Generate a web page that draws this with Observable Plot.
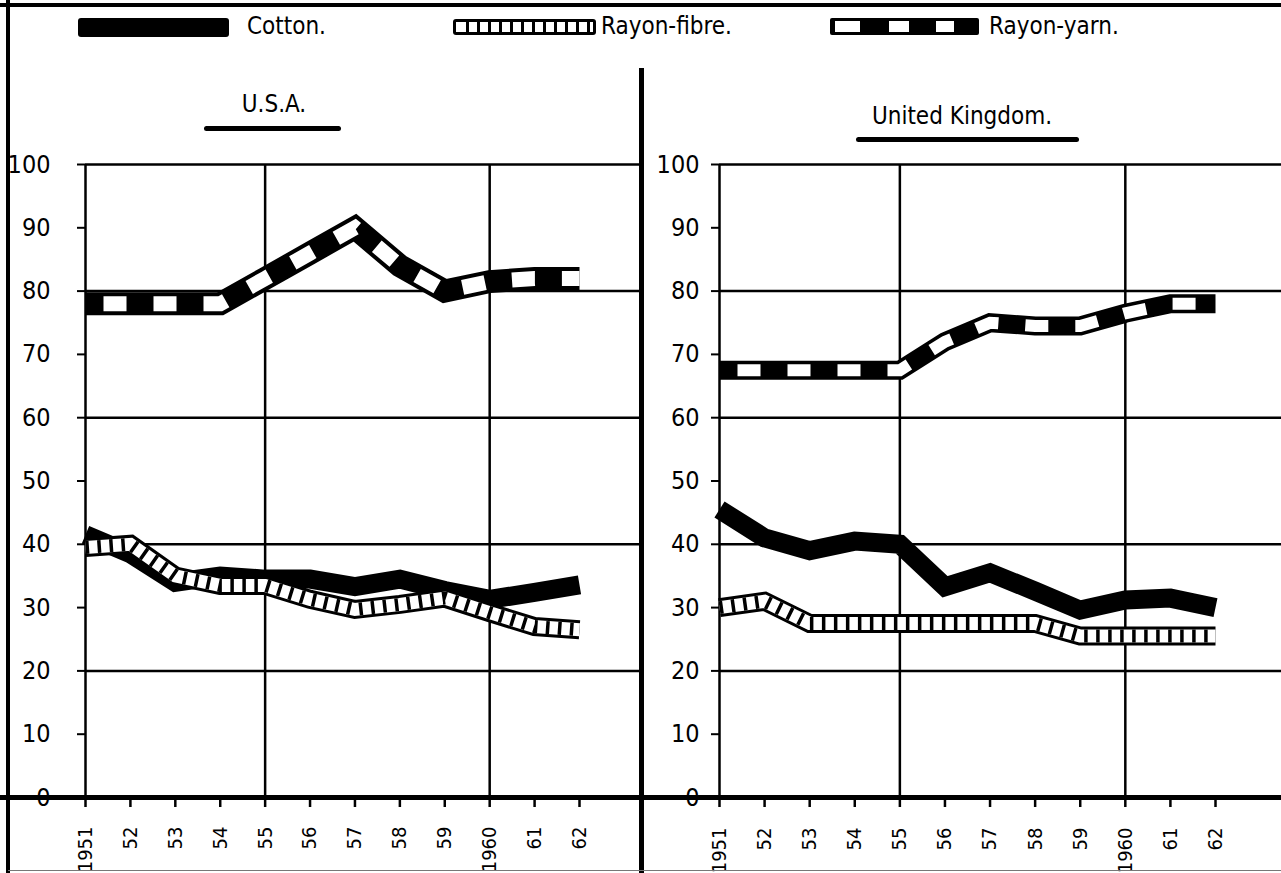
<!DOCTYPE html>
<html><head><meta charset="utf-8">
<script src="https://cdn.jsdelivr.net/npm/d3@7"></script>
<script src="https://cdn.jsdelivr.net/npm/@observablehq/plot@0.6"></script>
<style>
html,body{margin:0;padding:0;background:#fff;}
#page{position:relative;width:1281px;height:873px;overflow:hidden;background:#fff;
  font-family:"Liberation Sans Narrow","DejaVu Sans Condensed","DejaVu Sans",sans-serif;font-stretch:condensed;color:#000;}
.abs{position:absolute;}
.lbl{position:absolute;font-size:24px;line-height:1;white-space:nowrap;}
.title{position:absolute;font-size:24px;line-height:1;white-space:nowrap;transform:translateX(-50%);}
.uline{position:absolute;height:5px;background:#000;border-radius:3px;}
</style></head>
<body><div id="page"></div>
<script>
// ---- data ----
const years = [1951,1952,1953,1954,1955,1956,1957,1958,1959,1960,1961,1962];
const yearLabels = ["1951","52","53","54","55","56","57","58","59","1960","61","62"];
const yTicks = [0,10,20,30,40,50,60,70,80,90,100];
const gridY = [20,40,60,80,100];
const gridX = [1951,1955,1960];
const seriesNames = ["Cotton.","Rayon-fibre.","Rayon-yarn."];
const panelTitles = ["U.S.A.","United Kingdom."];

const usaCotton = [41.5,38.5,34,35,34.5,34.5,33.3,34.5,32.7,31.3,32.4,33.6];
const usaFibre  = [39.5,40,35,33.5,33.5,31.3,29.7,30.5,31.5,29.2,27,26.5];
const usaYarn   = [78,78,78,78,82,86,90,84,80,81.5,82,82];

const ukCotton = [45.5,41,39,40.5,40,33.3,35.5,32.6,29.6,31.2,31.5,30];
const ukFibre  = [30,31,27.5,27.5,27.5,27.5,27.5,27.5,25.5,25.5,25.5,25.5];
const ukYarn   = [67.5,67.5,67.5,67.5,67.5,72,75,74.5,74.5,76.5,78,78];

// ---- page frame ----
const page = d3.select("#page");
function block(x,y,w,h,color){ page.append("div").attr("class","abs")
  .style("left",x+"px").style("top",y+"px").style("width",w+"px").style("height",h+"px")
  .style("background",color||"#000"); }

const FONT = '"Liberation Sans Narrow","DejaVu Sans Condensed","DejaVu Sans",sans-serif';
const labelOf = new Map(years.map((y,i)=>[y,yearLabels[i]]));

function panel(cfg){
  const rows = s => years.map((yr,i)=>({year:yr, value:s[i]}));
  const cotton = rows(cfg.cotton), fibre = rows(cfg.fibre), yarn = rows(cfg.yarn);
  const ml = cfg.ml, mr = cfg.mr;
  const L = {x:"year", y:"value", strokeLinejoin:"miter", strokeMiterlimit:4, strokeLinecap:"butt", curve:"linear"};
  return Plot.plot({
    width: cfg.width, height: 733,
    marginTop: 24, marginBottom: 76, marginLeft: ml, marginRight: mr,
    x: {domain:[1951,1962], axis:null},
    y: {domain:[0,100], axis:null},
    style: {fontFamily: FONT, fontStretch:"condensed", background:"transparent", overflow:"visible", color:"#000"},
    marks: [
      Plot.ruleY(gridY, {stroke:"#000", strokeWidth:2.5, insetRight:-mr}),
      Plot.ruleX(gridX, {stroke:"#000", strokeWidth:2.5}),
      Plot.axisY(yTicks, {tickSize:8, tickPadding:cfg.pad, fontSize:25, stroke:"#000", strokeWidth:2, fill:"#000", label:null}),
      Plot.axisX(years, {tickSize:10, tickPadding:cfg.xpad, tickRotate:-90, fontSize:20, stroke:"#000", strokeWidth:2.5, fill:"#000",
        label:null, tickFormat: d => labelOf.get(d)}),
      // Rayon-yarn: black band with white blocks
      Plot.line(yarn, {...L, stroke:"#000", strokeWidth:cfg.yarnW}),
      Plot.line(yarn, {...L, stroke:"#fff", strokeWidth:cfg.yarnI, strokeDasharray:"23 27", strokeDashoffset:32}),
      // Cotton: solid black band
      Plot.line(cotton, {...L, stroke:"#000", strokeWidth:19}),
      // Rayon-fibre: outlined band with bars
      Plot.line(fibre, {...L, stroke:"#000", strokeWidth:19}),
      Plot.line(fibre, {...L, stroke:"#fff", strokeWidth:13}),
      Plot.line(fibre, {...L, stroke:"#000", strokeWidth:13, strokeDasharray:"3.5 8.5", strokeDashoffset:0}),
      // baseline
      Plot.ruleY([0], {stroke:"#000", strokeWidth:5, insetLeft:-ml, insetRight:-mr})
    ]
  });
}

const left = panel({width:641, ml:85, mr:62, pad:27, xpad:19, cotton:usaCotton, fibre:usaFibre, yarn:usaYarn, yarnW:23, yarnI:15});
const right = panel({width:640, ml:78, mr:66, pad:12, xpad:20, cotton:ukCotton, fibre:ukFibre, yarn:ukYarn, yarnW:19, yarnI:12});
d3.select(left).style("position","absolute").style("left","0px").style("top","140px");
d3.select(right).style("position","absolute").style("left","641px").style("top","140px");
page.node().appendChild(left);
page.node().appendChild(right);

// frame lines
block(0,3,1281,4);
block(6,0,4,873);
block(639,68,5,805);
block(8,870,1273,1,"#777");

// ---- legend ----
const leg = page.append("svg").attr("class","abs").style("left","0px").style("top","0px")
  .attr("width",1281).attr("height",60);
// cotton swatch
leg.append("rect").attr("x",78).attr("y",18).attr("width",151).attr("height",19).attr("rx",3).attr("fill","#000");
// fibre swatch
leg.append("rect").attr("x",453).attr("y",19).attr("width",143).attr("height",16).attr("rx",3).attr("fill","#000");
leg.append("rect").attr("x",456).attr("y",22).attr("width",137).attr("height",10).attr("fill","#fff");
leg.selectAll("rect.bar").data(d3.range(466,592,11)).join("rect").attr("class","bar")
  .attr("x",d=>d).attr("y",22).attr("width",3).attr("height",10).attr("fill","#000");
// yarn swatch
leg.append("rect").attr("x",830).attr("y",18).attr("width",149).attr("height",17).attr("rx",2).attr("fill","#000");
[[835,25],[889,20],[936,18]].forEach(([x,w])=>leg.append("rect").attr("x",x).attr("y",21).attr("width",w).attr("height",11).attr("fill","#fff"));

const legendX = [247,601,989];
seriesNames.forEach((t,i)=>page.append("div").attr("class","lbl").style("left",legendX[i]+"px").style("top","14px").text(t));

// ---- panel titles ----
page.append("div").attr("class","title").style("left","274px").style("top","92px").text(panelTitles[0]);
page.append("div").attr("class","title").style("left","962px").style("top","104px").text(panelTitles[1]);
page.append("div").attr("class","uline").style("left","204px").style("top","126px").style("width","137px");
page.append("div").attr("class","uline").style("left","856px").style("top","137px").style("width","223px");
</script>
</body></html>
